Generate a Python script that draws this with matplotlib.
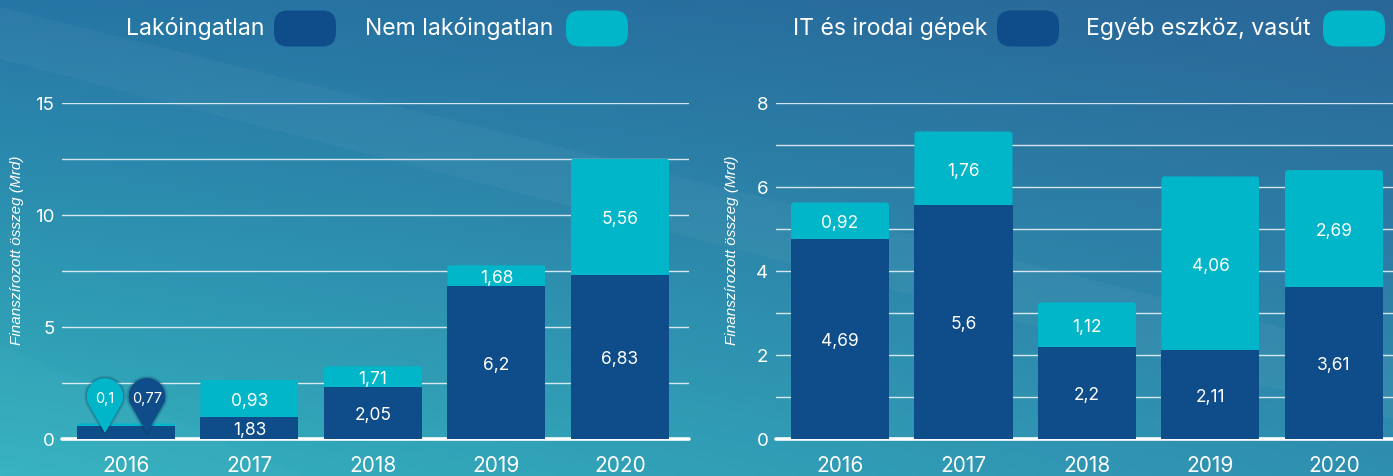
import matplotlib as mpl
mpl.use("Agg")
import matplotlib.pyplot as plt
import matplotlib.patheffects as pe
import numpy as np
from matplotlib.patches import FancyBboxPatch, Polygon
from matplotlib.path import Path
from matplotlib.transforms import IdentityTransform

mpl.rcParams["font.family"] = ["Inter", "DejaVu Sans"]

years = ["2016", "2017", "2018", "2019", "2020"]

# bar heights as drawn in the picture (the printed labels differ on the left chart)
lak_heights = [0.54, 0.98, 2.28, 6.79, 7.28]
nem_heights = [0.13, 1.65, 0.94, 0.94, 5.22]
lak_labels = ["", "1,83", "2,05", "6,2", "6,83"]
nem_labels = ["", "0,93", "1,71", "1,68", "5,56"]

it_heights = [4.74, 5.55, 2.17, 2.10, 3.60]
egyeb_heights = [0.88, 1.76, 1.07, 4.14, 2.79]
it_labels = ["4,69", "5,6", "2,2", "2,11", "3,61"]
egyeb_labels = ["0,92", "1,76", "1,12", "4,06", "2,69"]

pin_labels = ["0,1", "0,77"]

DARK = "#0f4d8a"
TEAL = "#00b6c8"
W, H = 1393, 477

fig = plt.figure(figsize=(W / 100, H / 100), dpi=100)

# background
bg = fig.add_axes([0, 0, 1, 1], zorder=0)
bg.set_xlim(0, W)
bg.set_ylim(H, 0)
bg.axis("off")
yy, xx = np.mgrid[0:1:120j, 0:1:350j]
corners = np.array([[0x26, 0x76, 0xa5], [0x2a, 0x67, 0x98], [0x34, 0xb2, 0xbe], [0x2f, 0x8f, 0xb0]]) / 255
img = ((1 - yy)[..., None] * ((1 - xx)[..., None] * corners[0] + xx[..., None] * corners[1])
       + yy[..., None] * ((1 - xx)[..., None] * corners[2] + xx[..., None] * corners[3]))
bg.imshow(img, extent=[0, W, H, 0], aspect="auto", zorder=0)
bg.add_patch(Polygon([[0, 8], [W, 356], [W, 420], [0, 60]], color="white", alpha=0.035, lw=0, zorder=1))
bg.add_patch(Polygon([[0, 345], [300, H], [0, H]], color="white", alpha=0.025, lw=0, zorder=1))

# legend
legend_items = [
    ("Lakóingatlan", 264, 274, DARK),
    ("Nem lakóingatlan", 553, 566, TEAL),
    ("IT és irodai gépek", 987, 997, DARK),
    ("Egyéb eszköz, vasút", 1311, 1323, TEAL),
]
for name, text_right, box_left, col in legend_items:
    bg.text(text_right, 28.5, name, color="white", fontsize=16.6, ha="right", va="center")
    bg.add_patch(FancyBboxPatch((box_left + 14, 11.5 + 14), 62 - 28, 36 - 28,
                                boxstyle="round,pad=14", fc=col, ec="none", zorder=3))


def draw_chart(x_left, x_right, ymax, minor, major, bottom, top, labels_b, labels_t, xlim, ylabel_x):
    ax = fig.add_axes([x_left / W, (H - 439.5) / H, (x_right - x_left) / W, 336 / H], zorder=2)
    ax.patch.set_alpha(0)
    x = np.arange(len(years))
    ax.set_xlim(*xlim)
    ax.set_ylim(0, ymax)
    ax.set_yticks(major)
    ax.set_yticks(minor, minor=True)
    ax.grid(True, which="both", axis="y", color="white", lw=1, alpha=0.8)
    ax.set_axisbelow(True)
    for s in ["top", "right", "left"]:
        ax.spines[s].set_visible(False)
    ax.spines["bottom"].set_color("white")
    ax.spines["bottom"].set_linewidth(2.6)
    ax.spines["bottom"].set_capstyle("round")
    ax.tick_params(which="both", length=0)
    ax.tick_params(axis="y", labelcolor="white", labelsize=13.5, pad=5.5)
    ax.tick_params(axis="x", labelcolor="white", labelsize=15, pad=12)
    ax.set_xticks(x, years)
    ax.bar(x, bottom, 0.794, color=DARK, zorder=3)
    top_bars = ax.bar(x, top, 0.794, bottom=bottom, color=TEAL, zorder=3)
    # rounded top corners
    for rect in top_bars:
        ext = rect.get_window_extent()
        clip = FancyBboxPatch((ext.x0 + 3, ext.y0 - 10), ext.width - 6, ext.height + 7,
                              boxstyle="round,pad=3", transform=IdentityTransform())
        rect.set_clip_path(clip)
    for i in x:
        ax.text(i, bottom[i] / 2, labels_b[i], color="white", fontsize=12.5, ha="center", va="center_baseline", zorder=5)
        ax.text(i, bottom[i] + top[i] / 2, labels_t[i], color="white", fontsize=12.5, ha="center", va="center_baseline", zorder=5)
    ax.text(ylabel_x, 0.564, "Finanszírozott összeg (Mrd)", transform=ax.transAxes, rotation=90,
            color="white", fontsize=11, style="italic", family="Liberation Sans", ha="center", va="center")
    return ax


ax1 = draw_chart(62, 689, 15, np.arange(0, 15.1, 2.5), [0, 5, 10, 15], lak_heights, nem_heights,
                 lak_labels, nem_labels, (-0.518, 4.559), -0.071)
ax2 = draw_chart(776, 1393, 8, np.arange(0, 8.1, 1), [0, 2, 4, 6, 8], it_heights, egyeb_heights,
                 it_labels, egyeb_labels, (-0.518, 4.478), -0.071)

# pins on the 2016 bar
t = np.linspace(np.radians(-20), np.radians(200), 60)
pin_verts = np.vstack([[0, 0], np.column_stack([18 * np.cos(t), 36 + 18 * np.sin(t)]), [0, 0]])
pin = Path(pin_verts, closed=True)
for dx, col, lab in zip([-0.17, 0.17], [TEAL, DARK], pin_labels):
    ax1.plot([dx], [0.27], marker=pin, ms=2 * 54 * 0.72, mfc=col, mec="none", ls="none", zorder=6, clip_on=False,
             path_effects=[pe.withStroke(linewidth=4, foreground="#0a3a5a", alpha=0.15),
                           pe.withStroke(linewidth=2, foreground="#0a3a5a", alpha=0.25), pe.Normal()])
    ax1.text(dx, 1.88, lab, color="white", fontsize=10.5, ha="center", va="center_baseline", zorder=7)

fig.savefig("out.png", dpi=100)
